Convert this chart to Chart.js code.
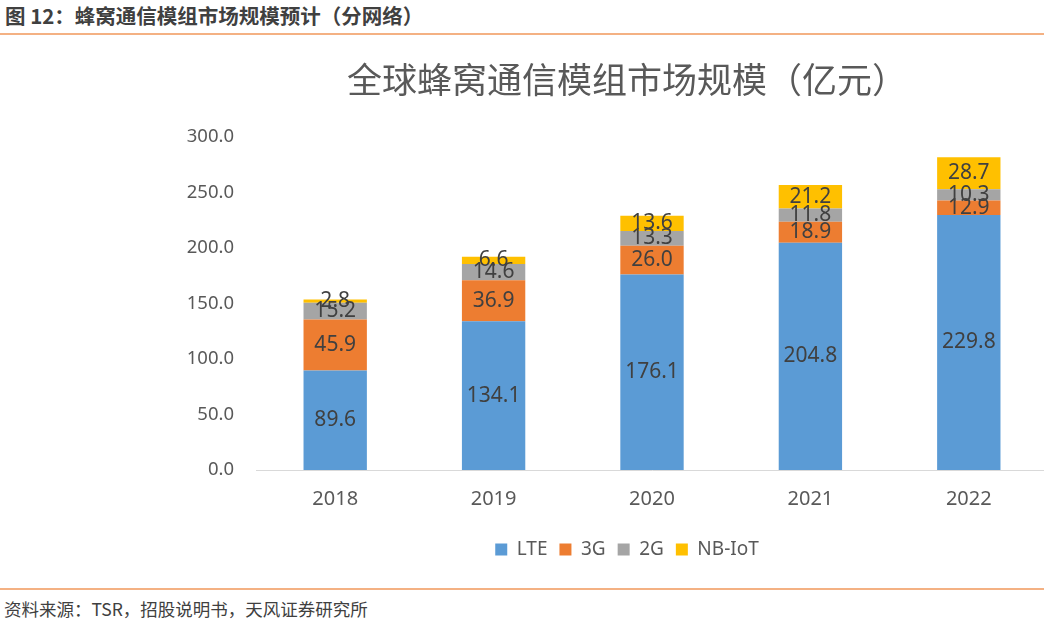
<!DOCTYPE html>
<html>
<head>
<meta charset="utf-8">
<script src="https://cdn.jsdelivr.net/npm/chart.js@4.4.1/dist/chart.umd.min.js"></script>
<style>
  html, body { margin: 0; padding: 0; width: 1044px; height: 621px; overflow: hidden; background: #fff; }
  #hdr { position: absolute; left: 5px; top: 0px; font: bold 20.5px "Noto Sans CJK SC", sans-serif; color: #404040; white-space: nowrap; }
  #line1 { position: absolute; left: 0; top: 33px; width: 1044px; height: 2px; background: #F4B183; }
  #line2 { position: absolute; left: 0; top: 588px; width: 1044px; height: 2px; background: #F4B183; }
  #ftr { position: absolute; left: 4px; top: 596px; font: 17.5px "Noto Sans CJK SC", sans-serif; color: #404040; white-space: nowrap; }
  #wrap { position: absolute; left: 176px; top: 40px; width: 884px; height: 545px; }
</style>
</head>
<body>
<div id="hdr">图 12：蜂窝通信模组市场规模预计（分网络）</div>
<div id="line1"></div>
<div id="wrap"><canvas id="c" width="884" height="545"></canvas></div>
<div id="line2"></div>
<div id="ftr">资料来源：TSR，招股说明书，天风证券研究所</div>
<script>
const categories = ['2018', '2019', '2020', '2021', '2022'];
const lteValues  = [89.6, 134.1, 176.1, 204.8, 229.8];
const g3Values   = [45.9, 36.9, 26.0, 18.9, 12.9];
const g2Values   = [15.2, 14.6, 13.3, 11.8, 10.3];
const nbValues   = [2.8, 6.6, 13.6, 21.2, 28.7];
const seriesNames = ['LTE', '3G', '2G', 'NB-IoT'];
const yTicks = [0, 50, 100, 150, 200, 250, 300];
const chartTitle = '全球蜂窝通信模组市场规模（亿元）';

const colors = ['#5B9BD5', '#ED7D31', '#A5A5A5', '#FFC000'];
const allValues = [lteValues, g3Values, g2Values, nbValues];

const labelPlugin = {
  id: 'barLabels',
  afterLayout(chart) {
    // widen the y-axis label clip region so tick labels are not cut off
    chart.scales.y.left = 0;
  },
  afterDatasetsDraw(chart) {
    const ctx = chart.ctx;
    ctx.save();
    ctx.font = '21px "Noto Sans", sans-serif';
    ctx.fillStyle = '#404040';
    ctx.textAlign = 'center';
    ctx.textBaseline = 'middle';
    chart.data.datasets.forEach((ds, i) => {
      const meta = chart.getDatasetMeta(i);
      meta.data.forEach((bar, j) => {
        const p = bar.getProps(['x', 'y', 'base'], true);
        ctx.fillText(ds.data[j].toFixed(1), p.x, (p.y + p.base) / 2);
      });
    });
    ctx.restore();
  }
};

new Chart(document.getElementById('c'), {
  type: 'bar',
  data: {
    labels: categories,
    datasets: allValues.map((vals, i) => ({
      label: seriesNames[i],
      data: vals,
      backgroundColor: colors[i],
      borderWidth: 0,
      barPercentage: 0.4,
      categoryPercentage: 1.0
    }))
  },
  options: {
    responsive: false,
    animation: false,
    events: [],
    layout: { padding: { left: 30, right: 12, top: 0, bottom: 16 } },
    plugins: {
      title: {
        display: true,
        text: chartTitle,
        color: '#595959',
        font: { size: 35, family: '"Noto Sans CJK SC", sans-serif', weight: 'normal' },
        padding: { top: 19, bottom: 36 }
      },
      legend: {
        display: true,
        position: 'bottom',
        labels: {
          boxWidth: 12,
          boxHeight: 12,
          padding: 12,
          color: '#595959',
          font: { size: 19, family: '"Noto Sans", sans-serif' }
        }
      },
      tooltip: { enabled: false }
    },
    scales: {
      x: {
        stacked: true,
        grid: { display: false, drawTicks: false },
        border: { display: true, color: '#D9D9D9', width: 1 },
        ticks: { color: '#595959', padding: 17, font: { size: 20, family: '"Noto Sans", sans-serif' } }
      },
      y: {
        stacked: true,
        min: 0,
        max: 300,
        afterBuildTicks(scale) { scale.ticks = yTicks.map(v => ({ value: v })); },
        afterFit(scale) { scale.width = 50; },
        grid: { display: false, drawTicks: false },
        border: { display: false },
        ticks: {
          color: '#595959',
          padding: 22,
          font: { size: 18.5, family: '"Noto Sans", sans-serif' },
          callback: v => Number(v).toFixed(1)
        }
      }
    }
  },
  plugins: [labelPlugin]
});
</script>
</body>
</html>
